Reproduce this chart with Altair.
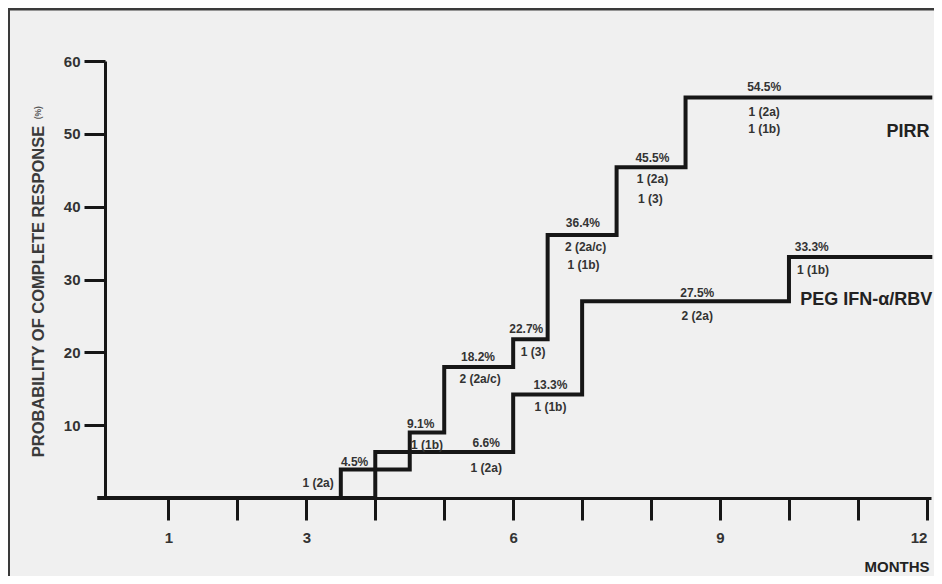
import altair as alt
import pandas as pd

# ---- data ----
pirr_month = [0, 3.5, 4.5, 5, 6, 6.5, 7.5, 8.5, 12.05]
pirr_pct = [0, 3.9, 9.0, 18.0, 21.8, 36.1, 45.4, 55.0, 55.0]
peg_month = [0, 4, 6, 7, 10, 12.05]
peg_pct = [0, 6.3, 14.2, 27.0, 33.1, 33.1]

ann_text = ["1 (2a)", "4.5%", "9.1%", "1 (1b)", "6.6%", "1 (2a)",
            "18.2%", "2 (2a/c)", "22.7%", "1 (3)", "36.4%", "2 (2a/c)", "1 (1b)",
            "13.3%", "1 (1b)", "45.5%", "1 (2a)", "1 (3)",
            "54.5%", "1 (2a)", "1 (1b)", "27.5%", "2 (2a)", "33.3%", "1 (1b)"]
ann_month = [3.17, 3.70, 4.66, 4.75, 5.61, 5.61,
             5.49, 5.52, 6.19, 6.29, 7.01, 7.05, 7.02,
             6.54, 6.54, 8.02, 8.02, 7.99,
             9.64, 9.64, 9.64, 8.67, 8.67, 10.33, 10.35]
ann_pct = [2.1, 4.9, 10.2, 7.3, 7.6, 4.1,
           19.4, 16.3, 23.2, 20.0, 37.8, 34.5, 32.0,
           15.5, 12.5, 46.7, 43.8, 41.1,
           56.4, 53.0, 50.6, 28.2, 25.0, 34.4, 31.3]

series_text = ["PIRR", "PEG IFN-\u03b1/RBV"]
series_month = [12.04, 12.08]
series_pct = [50.3, 27.2]

x_ticks = list(range(1, 13))
y_ticks = [10, 20, 30, 40, 50, 60]

FONT = "Liberation Sans"
INK = "#161616"
TXT = "#333333"

lines_df = pd.DataFrame(
    {"month": pirr_month + peg_month,
     "pct": pirr_pct + peg_pct,
     "series": ["PIRR"] * len(pirr_month) + ["PEG"] * len(peg_month)})
ann_df = pd.DataFrame({"text": ann_text, "month": ann_month, "pct": ann_pct})
ser_df = pd.DataFrame({"text": series_text, "month": series_month, "pct": series_pct})
misc_df = pd.DataFrame({"text": ["MONTHS"], "month": [12.04], "pct": [-9.5]})
pct_df = pd.DataFrame({"text": ["(%)"], "month": [-0.89], "pct": [52.9]})

xscale = alt.Scale(domain=[0.08, 12.06], nice=False, zero=False)
yscale = alt.Scale(domain=[0, 60], nice=False)

xaxis = alt.Axis(values=x_ticks, format="d",
                 labelExpr="(datum.value == 1 || datum.value % 3 == 0) ? datum.label : ''",
                 labelAlign={"condition": {"test": "datum.value == 12", "value": "right"},
                             "value": "center"},
                 labelFlush=False,
                 tickSize=22, tickWidth=3, tickColor=INK, domainColor=INK, domainWidth=3,
                 grid=False, title=None, labelFont=FONT, labelFontSize=15,
                 labelFontWeight="bold", labelColor=TXT, labelPadding=10)
yaxis = alt.Axis(values=y_ticks, format="d", tickSize=21, tickWidth=3, tickColor=INK,
                 domainColor=INK, domainWidth=3, grid=False,
                 title="PROBABILITY OF COMPLETE RESPONSE",
                 titleFont=FONT, titleFontSize=16.5, titleFontWeight="bold", titleColor="#3a3a3a",
                 titleX=-67, titleY=230, titleAngle=270, titleAlign="center", titleBaseline="middle",
                 labelFont=FONT, labelFontSize=15, labelFontWeight="bold", labelColor=TXT,
                 labelPadding=4)

base = alt.Chart(lines_df)
lines = base.mark_line(interpolate="step-after", strokeWidth=4, color=INK,
                       strokeJoin="miter", strokeCap="square").encode(
    x=alt.X("month:Q", scale=xscale, axis=xaxis),
    y=alt.Y("pct:Q", scale=yscale, axis=yaxis),
    detail="series:N")

ann = alt.Chart(ann_df).mark_text(font=FONT, fontSize=12, fontWeight="bold", color=TXT,
                                  align="center", baseline="middle").encode(
    x=alt.X("month:Q", scale=xscale), y=alt.Y("pct:Q", scale=yscale), text="text:N")

ser = alt.Chart(ser_df).mark_text(font=FONT, fontSize=18, fontWeight="bold", color="#222222",
                                  align="right", baseline="middle").encode(
    x=alt.X("month:Q", scale=xscale), y=alt.Y("pct:Q", scale=yscale), text="text:N")

misc = alt.Chart(misc_df).mark_text(font=FONT, fontSize=15, fontWeight="bold", color="#222222",
                                    align="right", baseline="middle").encode(
    x=alt.X("month:Q", scale=xscale), y=alt.Y("pct:Q", scale=yscale), text="text:N")

pct = alt.Chart(pct_df).mark_text(font=FONT, fontSize=8.5, fontWeight="bold", color="#555555",
                                  align="center", baseline="middle", angle=270).encode(
    x=alt.X("month:Q", scale=xscale), y=alt.Y("pct:Q", scale=yscale), text="text:N")

# decorative frame (top and left edges of the figure box)
frame_top = alt.Chart(pd.DataFrame({"a": [0]})).mark_rule(color="#3a3a3a", strokeWidth=3).encode(
    x=alt.value(-96), x2=alt.value(829), y=alt.value(-52))
frame_left = alt.Chart(pd.DataFrame({"a": [0]})).mark_rule(color="#3a3a3a", strokeWidth=2).encode(
    x=alt.value(-96), y=alt.value(-53), y2=alt.value(515))

chart = alt.layer(frame_top, frame_left, lines, ann, ser, misc, pct).properties(
    width=826, height=437,
    autosize=alt.AutoSizeParams(type="none"),
    padding={"left": 97, "top": 53, "right": 3, "bottom": 78},
    background="#f0f0f0",
).configure_view(stroke=None)

chart.save("out.html", embed_options={"renderer": "svg", "actions": False})
